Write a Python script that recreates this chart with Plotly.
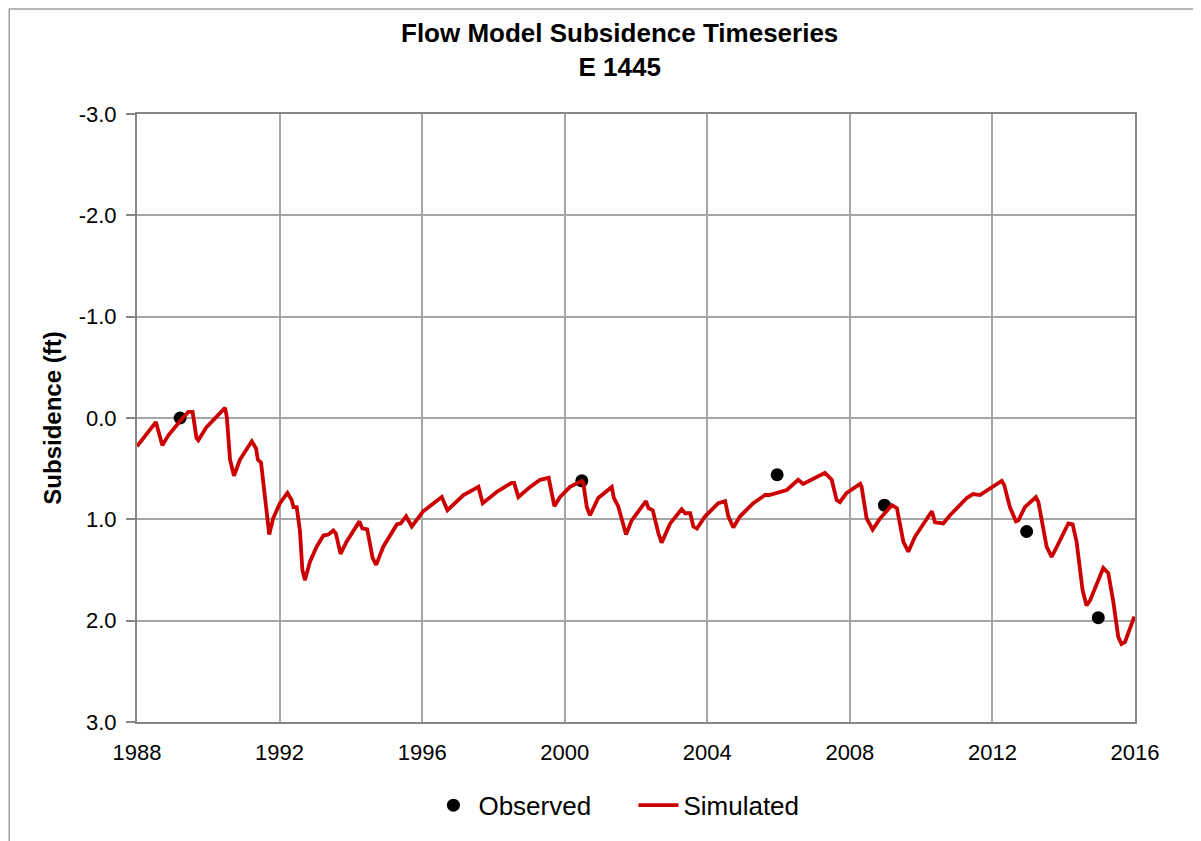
import plotly.graph_objects as go

# simulated subsidence (ft), decimal years
sim_year = [1988.00, 1988.27, 1988.53, 1988.71, 1988.88, 1989.21, 1989.44, 1989.56, 1989.67, 1989.72,
            1989.95, 1990.47, 1990.52, 1990.61, 1990.72, 1990.89, 1991.22, 1991.34, 1991.39, 1991.48,
            1991.59, 1991.71, 1991.82, 1992.01, 1992.22, 1992.34, 1992.39, 1992.48, 1992.57, 1992.64,
            1992.71, 1992.85, 1993.04, 1993.23, 1993.37, 1993.51, 1993.58, 1993.71, 1993.88, 1994.24,
            1994.32, 1994.46, 1994.61, 1994.71, 1994.91, 1995.29, 1995.40, 1995.55, 1995.71, 1996.03,
            1996.55, 1996.71, 1997.16, 1997.58, 1997.70, 1998.09, 1998.51, 1998.58, 1998.70, 1999.03,
            1999.31, 1999.55, 1999.71, 1999.87, 2000.15, 2000.48, 2000.52, 2000.62, 2000.71, 2000.94,
            2001.32, 2001.38, 2001.50, 2001.72, 2001.88, 2002.28, 2002.35, 2002.47, 2002.63, 2002.72,
            2002.96, 2003.28, 2003.38, 2003.52, 2003.61, 2003.71, 2003.94, 2004.31, 2004.50, 2004.59,
            2004.73, 2004.92, 2005.29, 2005.62, 2005.74, 2006.23, 2006.55, 2006.69, 2007.30, 2007.49,
            2007.63, 2007.72, 2007.91, 2008.29, 2008.33, 2008.47, 2008.64, 2008.85, 2009.18, 2009.32,
            2009.50, 2009.64, 2009.83, 2010.30, 2010.39, 2010.62, 2010.81, 2011.28, 2011.46, 2011.65,
            2012.26, 2012.33, 2012.49, 2012.66, 2012.73, 2012.91, 2013.22, 2013.29, 2013.52, 2013.66,
            2013.78, 2014.13, 2014.25, 2014.36, 2014.53, 2014.64, 2014.74, 2015.11, 2015.25, 2015.39,
            2015.53, 2015.62, 2015.72, 2015.86, 2015.98]
sim_val = [0.28, 0.15, 0.04, 0.27, 0.17, 0.03, -0.06, -0.06, 0.20, 0.22,
           0.09, -0.10, -0.01, 0.41, 0.57, 0.41, 0.23, 0.30, 0.41, 0.44,
           0.78, 1.15, 0.99, 0.84, 0.74, 0.81, 0.88, 0.88, 1.11, 1.50,
           1.60, 1.42, 1.27, 1.16, 1.15, 1.11, 1.14, 1.34, 1.22, 1.02,
           1.09, 1.10, 1.38, 1.45, 1.27, 1.05, 1.04, 0.97, 1.07, 0.92,
           0.78, 0.91, 0.76, 0.68, 0.84, 0.73, 0.64, 0.64, 0.78, 0.68,
           0.61, 0.59, 0.87, 0.78, 0.68, 0.62, 0.64, 0.88, 0.96, 0.79,
           0.68, 0.79, 0.87, 1.15, 1.01, 0.82, 0.89, 0.91, 1.14, 1.23,
           1.04, 0.90, 0.94, 0.94, 1.07, 1.09, 0.97, 0.84, 0.82, 0.97,
           1.08, 0.97, 0.84, 0.76, 0.76, 0.71, 0.61, 0.65, 0.54, 0.61,
           0.81, 0.83, 0.74, 0.65, 0.68, 0.99, 1.10, 0.99, 0.86, 0.89,
           1.22, 1.32, 1.17, 0.92, 1.03, 1.04, 0.96, 0.79, 0.75, 0.76,
           0.62, 0.66, 0.88, 1.02, 1.01, 0.88, 0.78, 0.83, 1.27, 1.37,
           1.29, 1.04, 1.05, 1.22, 1.70, 1.85, 1.80, 1.48, 1.53, 1.81,
           2.16, 2.23, 2.21, 2.06, 1.96]

# observed points
obs_year = [1989.21, 2000.48, 2005.96, 2008.97, 2012.96, 2014.97]
obs_val = [0.00, 0.62, 0.56, 0.86, 1.12, 1.97]

x_ticks = [1988, 1992, 1996, 2000, 2004, 2008, 2012, 2016]
y_ticks = [-3, -2, -1, 0, 1, 2, 3]
y_labels = ['-3.0', '-2.0', '-1.0', '0.0', '1.0', '2.0', '3.0']

font = 'Arial, Liberation Sans, sans-serif'

fig = go.Figure()
fig.add_trace(go.Scatter(x=obs_year, y=obs_val, mode='markers', name='Observed',
                         marker=dict(color='black', size=13)))
fig.add_trace(go.Scatter(x=sim_year, y=sim_val, mode='lines', name='Simulated',
                         line=dict(color='#CC0000', width=3.8)))

# page body has an 8px margin, so the figure is 8px smaller
fig.update_layout(
    width=1193, height=833,
    margin=dict(l=129, r=66, t=106, b=119),
    paper_bgcolor='white', plot_bgcolor='white',
    font=dict(family=font, color='black'),
    legend=dict(orientation='h', x=0.292, xanchor='left', y=-0.137, yanchor='middle',
                font=dict(size=26), itemwidth=40, entrywidth=150),
    showlegend=True,
)
fig.add_annotation(text='<b>Flow Model Subsidence Timeseries<br>E 1445</b>',
                   xref='paper', yref='paper', x=0.483, y=1.162,
                   xanchor='center', yanchor='top', showarrow=False,
                   font=dict(size=26))
fig.update_xaxes(range=[1988, 2016], tickvals=x_ticks, showgrid=True,
                 gridcolor='#A6A6A6', gridwidth=1.5, ticks='', ticklabelstandoff=10,
                 tickfont=dict(size=22), showline=True, linecolor='#868686', linewidth=2,
                 mirror=True, zeroline=False)
fig.update_yaxes(range=[3, -3], tickvals=y_ticks, ticktext=y_labels, showgrid=True,
                 gridcolor='#A6A6A6', gridwidth=1.5, ticks='outside', ticklen=9,
                 tickcolor='#868686', tickwidth=1.5, ticklabelstandoff=5,
                 tickfont=dict(size=22), showline=True, linecolor='#868686', linewidth=2,
                 mirror=True, zeroline=False,
                 title=dict(text='<b>Subsidence (ft)</b>', font=dict(size=24), standoff=10))

# outer chart frame
fig.add_shape(type='rect', xref='paper', yref='paper',
              x0=-0.128, x1=1.060, y0=-0.3, y1=1.1727,
              line=dict(color='#A0A0A0', width=1.5), layer='below')

fig.write_html('out.html')
